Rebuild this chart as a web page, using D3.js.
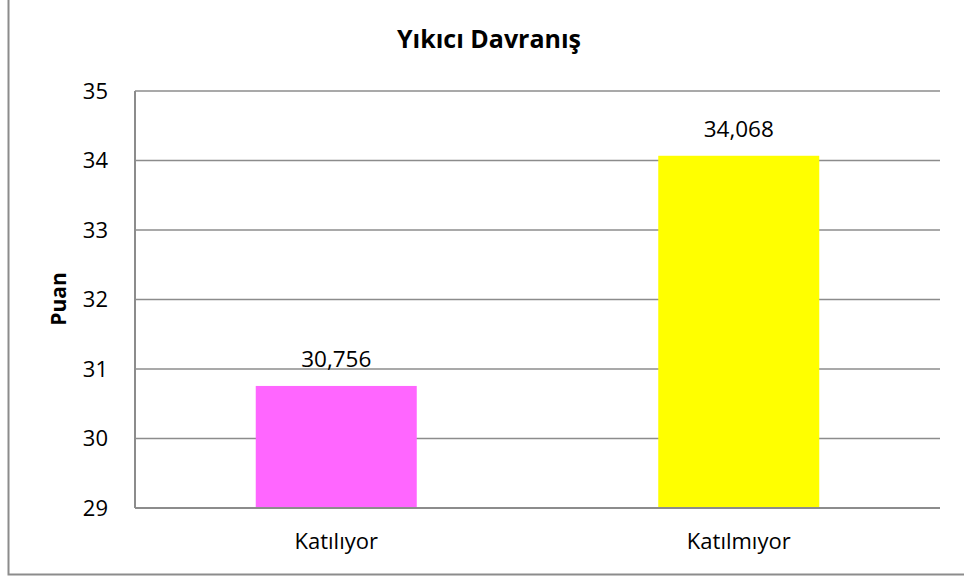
<!DOCTYPE html>
<meta charset="utf-8">
<style>
body{margin:0;background:#fff;}
text{font-family:"Open Sans",sans-serif;fill:#000;}
</style>
<body>
<script src="https://d3js.org/d3.v7.min.js"></script>
<script>
var categories=["Katılıyor","Katılmıyor"];
var values=[30.756,34.068];
var colors=["#ff66ff","#ffff00"];
var yTicks=[29,30,31,32,33,34,35];

var W=964,H=576;
var plotL=135,plotR=940,plotT=91,plotB=508;

var svg=d3.select("body").append("svg").attr("width",W).attr("height",H);

// outer frame (only left and bottom visible)
svg.append("path").attr("d","M8.5,0V574.5H964").attr("fill","none")
  .attr("stroke","#8c8c8c").attr("stroke-width",2);

var x=d3.scaleBand().domain(categories).range([plotL,plotR]);
var y=d3.scaleLinear().domain([29,35]).range([plotB,plotT]);

// gridlines
svg.append("g").selectAll("line").data(yTicks).join("line")
  .attr("x1",plotL).attr("x2",plotR)
  .attr("y1",d=>y(d)).attr("y2",d=>y(d))
  .attr("stroke","#8c8c8c").attr("stroke-width",1.5);

// bars
svg.append("g").selectAll("rect").data(values).join("rect")
  .attr("x",(d,i)=>x(categories[i])+x.bandwidth()*0.3)
  .attr("width",x.bandwidth()*0.4)
  .attr("y",d=>y(d)).attr("height",d=>y(29)-y(d))
  .attr("fill",(d,i)=>colors[i]);

// axes lines
svg.append("line").attr("x1",plotL).attr("x2",plotL).attr("y1",plotT).attr("y2",plotB)
  .attr("stroke","#8c8c8c").attr("stroke-width",2);
svg.append("line").attr("x1",plotL).attr("x2",plotR).attr("y1",plotB).attr("y2",plotB)
  .attr("stroke","#8c8c8c").attr("stroke-width",2);

// y tick labels
svg.append("g").selectAll("text").data(yTicks).join("text")
  .attr("x",108).attr("y",d=>y(d)+7.5)
  .attr("text-anchor","end").style("font-size","22px")
  .text(d=>d);

// x labels
svg.append("g").selectAll("text").data(categories).join("text")
  .attr("x",d=>x(d)+x.bandwidth()/2).attr("y",549)
  .attr("text-anchor","middle").style("font-size","22px")
  .text(d=>d);

// value labels
svg.append("g").selectAll("text").data(values).join("text")
  .attr("x",(d,i)=>x(categories[i])+x.bandwidth()/2)
  .attr("y",d=>y(d)-19)
  .attr("text-anchor","middle").style("font-size","22.5px")
  .text(d=>d3.format(".3f")(d).replace(".",","));

// title
svg.append("text").attr("x",489).attr("y",48).attr("text-anchor","middle")
  .style("font-size","25px").style("font-weight","bold").text("Yıkıcı Davranış");

// y axis title
svg.append("text").attr("transform","translate(66,299)rotate(-90)")
  .attr("text-anchor","middle").style("font-size","21px").style("font-weight","bold")
  .text("Puan");
</script>
</body>
</html>
